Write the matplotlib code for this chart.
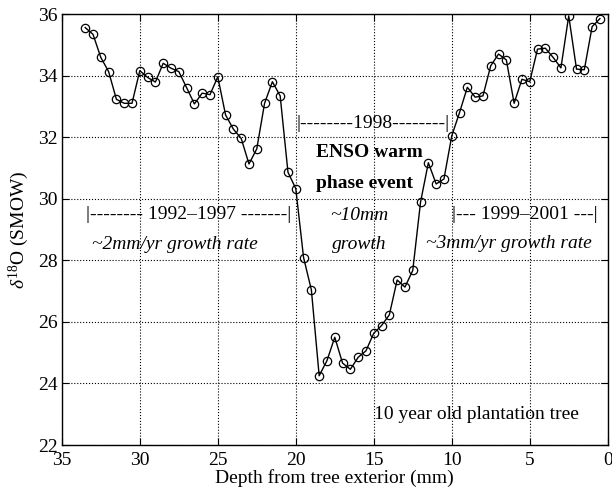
import matplotlib
matplotlib.use('Agg')
import matplotlib.pyplot as plt

plt.rcParams['font.family'] = ['Liberation Serif', 'DejaVu Serif']
plt.rcParams['mathtext.fontset'] = 'custom'
plt.rcParams['mathtext.rm'] = 'Liberation Serif'
plt.rcParams['mathtext.it'] = 'Liberation Serif:italic'

depth = [33.5, 33.0, 32.5, 32.0, 31.5, 31.0, 30.5, 30.0, 29.5, 29.0,
         28.5, 28.0, 27.5, 27.0, 26.5, 26.0, 25.5, 25.0, 24.5, 24.0,
         23.5, 23.0, 22.5, 22.0, 21.5, 21.0, 20.5, 20.0, 19.5, 19.0,
         18.5, 18.0, 17.5, 17.0, 16.5, 16.0, 15.5, 15.0, 14.5, 14.0,
         13.5, 13.0, 12.5, 12.0, 11.5, 11.0, 10.5, 10.0, 9.5, 9.0,
         8.5, 8.0, 7.5, 7.0, 6.5, 6.0, 5.5, 5.0, 4.5, 4.0,
         3.5, 3.0, 2.5, 2.0, 1.5, 1.0, 0.5]
d18o = [35.56, 35.34, 34.59, 34.13, 33.23, 33.10, 33.10, 34.16, 33.94, 33.79,
        34.40, 34.24, 34.13, 33.61, 33.08, 33.43, 33.38, 33.96, 32.72, 32.26,
        31.96, 31.13, 31.62, 33.10, 33.80, 33.34, 30.86, 30.33, 28.09, 27.04,
        24.25, 24.74, 25.50, 24.66, 24.46, 24.85, 25.06, 25.63, 25.88, 26.23,
        27.36, 27.13, 27.67, 29.89, 31.17, 30.48, 30.64, 32.04, 32.80, 33.62,
        33.30, 33.34, 34.32, 34.70, 34.51, 33.10, 33.88, 33.80, 34.86, 34.89,
        34.59, 34.25, 35.94, 34.21, 34.19, 35.59, 35.85]

xticks = [35, 30, 25, 20, 15, 10, 5, 0]
yticks = [22, 24, 26, 28, 30, 32, 34, 36]

fig = plt.figure(figsize=(6.12, 4.92), dpi=100)
ax = fig.add_axes([0.101, 0.0955, 0.892, 0.876])

ax.plot(depth, d18o, color='black', linewidth=1.0, marker='o',
        markersize=6, markerfacecolor='none', markeredgecolor='black',
        markeredgewidth=0.9)

ax.set_xlim(35, 0)
ax.set_ylim(22, 36)
ax.set_xticks(xticks)
ax.set_yticks(yticks)
ax.grid(True, linestyle=':', color='black', linewidth=0.8)
ax.tick_params(direction='in', top=True, right=True, labelsize=14, length=5)
ax.tick_params(axis='x', pad=5)
ax.tick_params(axis='y', pad=3)
for s in ax.spines.values():
    s.set_linewidth(1.0)

ax.set_xlabel('Depth from tree exterior (mm)', fontsize=14, labelpad=0)
ax.set_ylabel(r'$\delta^{18}$O (SMOW)', fontsize=14, labelpad=5)

fs = 14
ax.text(33.45, 29.5, '|-------- 1992\u20131997 -------|', fontsize=fs, va='center', ha='left')
ax.text(27.75, 28.5, '~2mm/yr growth rate', fontsize=fs, style='italic', va='center', ha='center')
ax.text(19.95, 32.46, '|--------1998--------|', fontsize=fs, va='center', ha='left')
ax.text(15.3, 31.5, 'ENSO warm', fontsize=fs, weight='bold', va='center', ha='center')
ax.text(15.6, 30.5, 'phase event', fontsize=fs, weight='bold', va='center', ha='center')
ax.text(15.9, 29.47, '~10mm', fontsize=fs, style='italic', va='center', ha='center')
ax.text(15.9, 28.5, 'growth', fontsize=fs, style='italic', va='center', ha='center')
ax.text(10.0, 29.5, '|--- 1999\u20132001 ---|', fontsize=fs, va='center', ha='left')
ax.text(6.35, 28.55, '~3mm/yr growth rate', fontsize=fs, style='italic', va='center', ha='center')
ax.text(15.0, 23.0, '10 year old plantation tree', fontsize=fs, va='center', ha='left')

fig.savefig('out.png', dpi=100)
